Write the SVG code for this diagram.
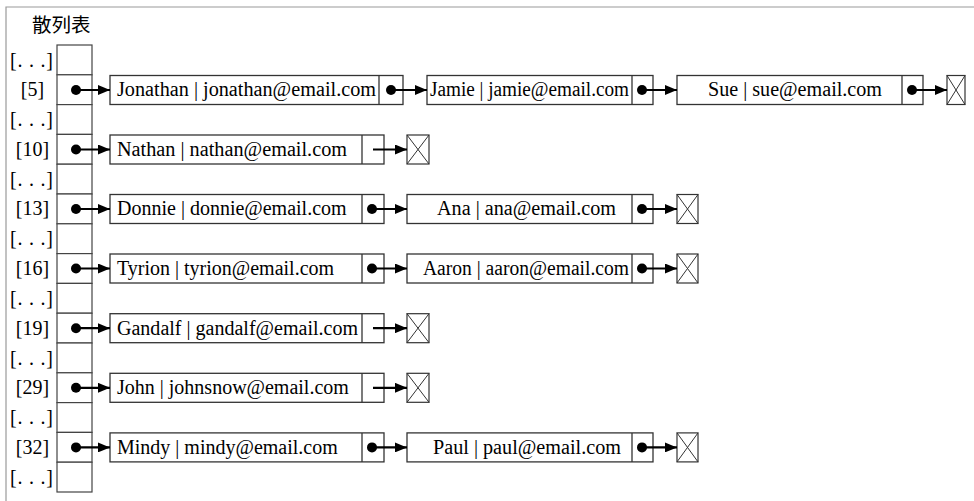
<svg xmlns="http://www.w3.org/2000/svg" width="974" height="501" viewBox="0 0 974 501">
<style>
.frame{fill:none;stroke:#9a9a9a;stroke-width:1.2}
.cell{fill:#fff;stroke:#444;stroke-width:1.2}
.box{fill:#fff;stroke:#333;stroke-width:1.3}
.dv{stroke:#333;stroke-width:1.3}
.nul{fill:#fff;stroke:#333;stroke-width:1.2}
.x{stroke:#333;stroke-width:1}
.lbl{font-family:"Liberation Serif","Times New Roman",serif;font-size:20px;fill:#000;text-anchor:middle}
.t{font-family:"Liberation Serif","Times New Roman",serif;font-size:20px;fill:#000}
.title{font-family:"Noto Sans CJK SC","Noto Sans",sans-serif;font-size:19.5px;fill:#000}
.c{fill:none;stroke:#000;stroke-width:2.2;marker-end:url(#ah)}
.d{fill:#000}
</style>
<defs>
<marker id="ah" markerUnits="userSpaceOnUse" viewBox="0 0 12 10" markerWidth="12" markerHeight="10" refX="12" refY="5" orient="auto"><path d="M0,0 L12,5 L0,10 Z" fill="#000"/></marker>
</defs>
<rect width="974" height="501" fill="#fff"/>
<path class="frame" d="M6,501 V7 H974"/>
<text class="title" x="32" y="32">散列表</text>

<g id="table">
<rect class="cell" x="57" y="45" width="35" height="29.8"/>
<rect class="cell" x="57" y="74.8" width="35" height="29.8"/>
<rect class="cell" x="57" y="104.6" width="35" height="29.8"/>
<rect class="cell" x="57" y="134.4" width="35" height="29.8"/>
<rect class="cell" x="57" y="164.2" width="35" height="29.8"/>
<rect class="cell" x="57" y="194" width="35" height="29.8"/>
<rect class="cell" x="57" y="223.8" width="35" height="29.8"/>
<rect class="cell" x="57" y="253.6" width="35" height="29.8"/>
<rect class="cell" x="57" y="283.4" width="35" height="29.8"/>
<rect class="cell" x="57" y="313.2" width="35" height="29.8"/>
<rect class="cell" x="57" y="343" width="35" height="29.8"/>
<rect class="cell" x="57" y="372.8" width="35" height="29.8"/>
<rect class="cell" x="57" y="402.6" width="35" height="29.8"/>
<rect class="cell" x="57" y="432.4" width="35" height="29.8"/>
<rect class="cell" x="57" y="462.2" width="35" height="29.8"/>
<text class="lbl" x="31.5" y="66.5" textLength="43" lengthAdjust="spacing">[. . .]</text>
<text class="lbl" x="32.5" y="96.2">[5]</text>
<text class="lbl" x="31.5" y="126.1" textLength="43" lengthAdjust="spacing">[. . .]</text>
<text class="lbl" x="32.5" y="155.8">[10]</text>
<text class="lbl" x="31.5" y="185.7" textLength="43" lengthAdjust="spacing">[. . .]</text>
<text class="lbl" x="32.5" y="215.4">[13]</text>
<text class="lbl" x="31.5" y="245.3" textLength="43" lengthAdjust="spacing">[. . .]</text>
<text class="lbl" x="32.5" y="275">[16]</text>
<text class="lbl" x="31.5" y="304.9" textLength="43" lengthAdjust="spacing">[. . .]</text>
<text class="lbl" x="32.5" y="334.6">[19]</text>
<text class="lbl" x="31.5" y="364.5" textLength="43" lengthAdjust="spacing">[. . .]</text>
<text class="lbl" x="32.5" y="394.2">[29]</text>
<text class="lbl" x="31.5" y="424.1" textLength="43" lengthAdjust="spacing">[. . .]</text>
<text class="lbl" x="32.5" y="453.8">[32]</text>
<text class="lbl" x="31.5" y="483.7" textLength="43" lengthAdjust="spacing">[. . .]</text>
</g>

<g id="n-jonathan"><rect class="box" x="110" y="75.5" width="293" height="29"/><line class="dv" x1="379" y1="75.5" x2="379" y2="104.5"/><text class="t" x="117" y="96.2" textLength="259" lengthAdjust="spacingAndGlyphs">Jonathan | jonathan@email.com</text></g>
<g id="n-jamie"><rect class="box" x="427" y="75.5" width="226" height="29"/><line class="dv" x1="632" y1="75.5" x2="632" y2="104.5"/><text class="t" x="430" y="96.2" textLength="199" lengthAdjust="spacingAndGlyphs">Jamie | jamie@email.com</text></g>
<g id="n-sue"><rect class="box" x="677" y="75.5" width="246" height="29"/><line class="dv" x1="902" y1="75.5" x2="902" y2="104.5"/><text class="t" x="708" y="96.2" textLength="174" lengthAdjust="spacingAndGlyphs">Sue | sue@email.com</text></g>
<g id="null-5"><rect class="nul" x="947" y="75.5" width="18" height="29"/><path class="x" d="M947,75.5 L965,104.5 M965,75.5 L947,104.5"/></g>

<g id="n-nathan"><rect class="box" x="110" y="135" width="274" height="29"/><line class="dv" x1="362" y1="135" x2="362" y2="164"/><text class="t" x="117" y="155.8" textLength="230" lengthAdjust="spacingAndGlyphs">Nathan | nathan@email.com</text></g>
<g id="null-10"><rect class="nul" x="407" y="135" width="22" height="29"/><path class="x" d="M407,135 L429,164 M429,135 L407,164"/></g>

<g id="n-donnie"><rect class="box" x="110" y="194.5" width="274" height="29"/><line class="dv" x1="362" y1="194.5" x2="362" y2="223.5"/><text class="t" x="117" y="215.4">Donnie | donnie@email.com</text></g>
<g id="n-ana"><rect class="box" x="407" y="194.5" width="246" height="29"/><line class="dv" x1="632" y1="194.5" x2="632" y2="223.5"/><text class="t" x="437" y="215.4" textLength="179" lengthAdjust="spacingAndGlyphs">Ana | ana@email.com</text></g>
<g id="null-13"><rect class="nul" x="677" y="194.5" width="21" height="29"/><path class="x" d="M677,194.5 L698,223.5 M698,194.5 L677,223.5"/></g>

<g id="n-tyrion"><rect class="box" x="110" y="254" width="274" height="29"/><line class="dv" x1="362" y1="254" x2="362" y2="283"/><text class="t" x="117" y="275">Tyrion | tyrion@email.com</text></g>
<g id="n-aaron"><rect class="box" x="407" y="254" width="246" height="29"/><line class="dv" x1="632" y1="254" x2="632" y2="283"/><text class="t" x="423" y="275" textLength="206" lengthAdjust="spacingAndGlyphs">Aaron | aaron@email.com</text></g>
<g id="null-16"><rect class="nul" x="677" y="254" width="21" height="29"/><path class="x" d="M677,254 L698,283 M698,254 L677,283"/></g>

<g id="n-gandalf"><rect class="box" x="110" y="313.7" width="274" height="29"/><line class="dv" x1="362" y1="313.7" x2="362" y2="342.7"/><text class="t" x="117" y="334.6" textLength="241" lengthAdjust="spacingAndGlyphs">Gandalf | gandalf@email.com</text></g>
<g id="null-19"><rect class="nul" x="407" y="313.7" width="22" height="29"/><path class="x" d="M407,313.7 L429,342.7 M429,313.7 L407,342.7"/></g>

<g id="n-john"><rect class="box" x="110" y="373.3" width="274" height="29"/><line class="dv" x1="362" y1="373.3" x2="362" y2="402.3"/><text class="t" x="117" y="394.2">John | johnsnow@email.com</text></g>
<g id="null-29"><rect class="nul" x="407" y="373.3" width="22" height="29"/><path class="x" d="M407,373.3 L429,402.3 M429,373.3 L407,402.3"/></g>

<g id="n-mindy"><rect class="box" x="110" y="432.9" width="274" height="29"/><line class="dv" x1="362" y1="432.9" x2="362" y2="461.9"/><text class="t" x="117" y="453.8">Mindy | mindy@email.com</text></g>
<g id="n-paul"><rect class="box" x="407" y="432.9" width="246" height="29"/><line class="dv" x1="632" y1="432.9" x2="632" y2="461.9"/><text class="t" x="433" y="453.8" textLength="188" lengthAdjust="spacingAndGlyphs">Paul | paul@email.com</text></g>
<g id="null-32"><rect class="nul" x="677" y="432.9" width="21" height="29"/><path class="x" d="M677,432.9 L698,461.9 M698,432.9 L677,461.9"/></g>

<g id="connectors">
<path class="c" d="M76,90 H110"/><circle class="d" cx="76" cy="90" r="5"/>
<path class="c" d="M391,90 H427"/><circle class="d" cx="391" cy="90" r="5"/>
<path class="c" d="M642,90 H677"/><circle class="d" cx="642" cy="90" r="5"/>
<path class="c" d="M912,90 H947"/><circle class="d" cx="912" cy="90" r="5"/>
<path class="c" d="M76,149.5 H110"/><circle class="d" cx="76" cy="149.5" r="5"/>
<path class="c" d="M373,149.5 H407"/>
<path class="c" d="M76,209 H110"/><circle class="d" cx="76" cy="209" r="5"/>
<path class="c" d="M372,209 H407"/><circle class="d" cx="372" cy="209" r="5"/>
<path class="c" d="M642,209 H677"/><circle class="d" cx="642" cy="209" r="5"/>
<path class="c" d="M76,268.5 H110"/><circle class="d" cx="76" cy="268.5" r="5"/>
<path class="c" d="M372,268.5 H407"/><circle class="d" cx="372" cy="268.5" r="5"/>
<path class="c" d="M642,268.5 H677"/><circle class="d" cx="642" cy="268.5" r="5"/>
<path class="c" d="M76,328.2 H110"/><circle class="d" cx="76" cy="328.2" r="5"/>
<path class="c" d="M373,328.2 H407"/>
<path class="c" d="M76,387.8 H110"/><circle class="d" cx="76" cy="387.8" r="5"/>
<path class="c" d="M373,387.8 H407"/>
<path class="c" d="M76,447.4 H110"/><circle class="d" cx="76" cy="447.4" r="5"/>
<path class="c" d="M372,447.4 H407"/><circle class="d" cx="372" cy="447.4" r="5"/>
<path class="c" d="M642,447.4 H677"/><circle class="d" cx="642" cy="447.4" r="5"/>
</g>
</svg>
